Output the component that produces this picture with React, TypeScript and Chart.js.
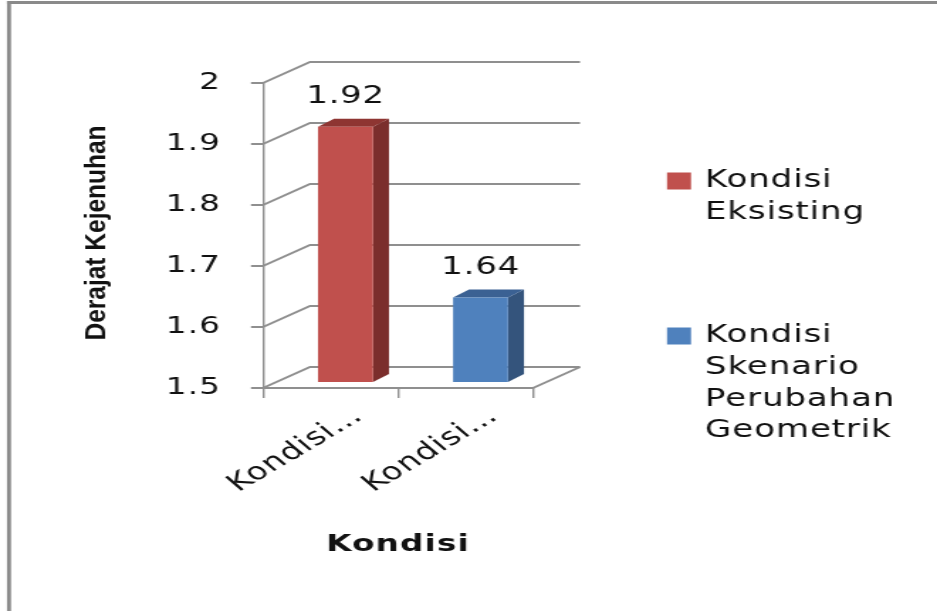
import React, { useEffect, useRef } from 'react';
import { Chart, registerables } from 'chart.js';

Chart.register(...registerables);

// ---- data ----
const categories = ['Kondisi Eksisting', 'Kondisi Skenario Perubahan Geometrik'];
const legendLines = [
  ['Kondisi', 'Eksisting'],
  ['Kondisi', 'Skenario', 'Perubahan', 'Geometrik'],
];
const values = [1.92, 1.64];
const yTicks = [1.5, 1.6, 1.7, 1.8, 1.9, 2];
const yTitle = 'Derajat Kejenuhan';
const xTitle = 'Kondisi';

// ---- layout / styles ----
// The reference is a horizontally stretched picture: the canvas is drawn
// narrower and stretched by CSS to the full width.
const PAGE_W = 937;
const PAGE_H = 611;
const CANVAS_W = 660;
const S = PAGE_W / CANVAS_W;
const px = (pageX: number) => pageX / S;

const frontColors = ['#C0504D', '#4F81BD'];
const sideColors = ['#7B2E2C', '#34547C'];
const topColors = ['#8E3532', '#3B6193'];
const lineColor = '#8f8f8f';
const FONT = '"DejaVu Sans", Verdana, sans-serif';
const WALL = { dx: px(47), dy: -21 };
const BAR_SHIFT = { x: px(15), y: -5 };
const BAR_DEPTH = { x: px(16), y: -8 };

const shortLabel = (s: string) => s.split(' ')[0] + '\u2026';

const framePlugin = {
  id: 'frame',
  beforeLayout(chart: any) {
    chart.ctx.letterSpacing = '0.8px';
  },
  beforeDraw(chart: any) {
    const ctx = chart.ctx;
    ctx.save();
    ctx.fillStyle = '#ffffff';
    ctx.fillRect(0, 0, chart.width, chart.height);
    ctx.fillStyle = '#8a8a8a';
    ctx.fillRect(px(7), 1, chart.width, 3);
    ctx.fillRect(px(7), 1, px(4), chart.height);
    ctx.restore();
    ctx.letterSpacing = '0.8px';
  },
};

const wallPlugin = {
  id: 'wall3d',
  beforeDatasetsDraw(chart: any) {
    const { ctx, chartArea, scales } = chart;
    const ys = scales.y;
    const { left, right, bottom } = chartArea;
    ctx.save();
    ctx.strokeStyle = lineColor;
    ctx.lineWidth = 2;
    yTicks.forEach((v) => {
      const y = ys.getPixelForValue(v);
      ctx.beginPath();
      ctx.moveTo(left, y);
      ctx.lineTo(left + WALL.dx, y + WALL.dy);
      ctx.lineTo(right + WALL.dx, y + WALL.dy);
      ctx.stroke();
    });
    ctx.beginPath();
    ctx.moveTo(right, bottom);
    ctx.lineTo(right + WALL.dx, bottom + WALL.dy);
    ctx.stroke();
    ctx.restore();
  },
  beforeDatasetDraw(chart: any, args: any) {
    const ctx = chart.ctx;
    ctx.save();
    ctx.translate(BAR_SHIFT.x, BAR_SHIFT.y);
    args.meta.data.forEach((el: any, i: number) => {
      const { x, y, base, width } = el.getProps(['x', 'y', 'base', 'width'], true);
      const l = x - width / 2;
      const r = x + width / 2;
      ctx.fillStyle = sideColors[i];
      ctx.beginPath();
      ctx.moveTo(r, y);
      ctx.lineTo(r + BAR_DEPTH.x, y + BAR_DEPTH.y);
      ctx.lineTo(r + BAR_DEPTH.x, base + BAR_DEPTH.y);
      ctx.lineTo(r, base);
      ctx.closePath();
      ctx.fill();
      ctx.fillStyle = topColors[i];
      ctx.beginPath();
      ctx.moveTo(l, y);
      ctx.lineTo(l + BAR_DEPTH.x, y + BAR_DEPTH.y);
      ctx.lineTo(r + BAR_DEPTH.x, y + BAR_DEPTH.y);
      ctx.lineTo(r, y);
      ctx.closePath();
      ctx.fill();
    });
  },
  afterDatasetDraw(chart: any) {
    chart.ctx.restore();
  },
  afterDraw(chart: any) {
    const ctx = chart.ctx;
    const meta = chart.getDatasetMeta(0);
    ctx.save();
    // data labels
    ctx.fillStyle = '#111';
    ctx.font = `24px ${FONT}`;
    ctx.letterSpacing = '0.5px';
    ctx.textAlign = 'center';
    ctx.textBaseline = 'middle';
    meta.data.forEach((el: any, i: number) => {
      const { x, y } = el.getProps(['x', 'y'], true);
      ctx.fillText(String(values[i]), x + BAR_SHIFT.x, y + BAR_SHIFT.y - 30);
    });
    // legend
    ctx.font = `24px ${FONT}`;
    ctx.letterSpacing = '0.6px';
    ctx.textAlign = 'left';
    const starts = [181, 336];
    legendLines.forEach((lines, i) => {
      ctx.fillStyle = frontColors[i];
      ctx.fillRect(px(667), starts[i] - 8.5, px(24), 17);
      ctx.fillStyle = '#111';
      lines.forEach((t, j) => ctx.fillText(t, px(705), starts[i] + j * 31.7));
    });
    // y title
    ctx.letterSpacing = '0px';
    ctx.font = `bold 24.5px "Liberation Sans", Arial, sans-serif`;
    ctx.translate(px(105), 233);
    ctx.scale(1.12 / S, 1);
    ctx.rotate(-Math.PI / 2);
    ctx.textAlign = 'center';
    ctx.textBaseline = 'alphabetic';
    ctx.fillText(yTitle, 0, 0);
    ctx.restore();
    ctx.letterSpacing = '0.8px';
  },
};

export default function App() {
  const ref = useRef<HTMLCanvasElement | null>(null);
  useEffect(() => {
    if (!ref.current) return;
    const chart = new Chart(ref.current, {
      type: 'bar',
      data: {
        labels: categories,
        datasets: [
          {
            data: values,
            base: yTicks[0],
            backgroundColor: frontColors,
            borderWidth: 0,
            categoryPercentage: 1,
            barPercentage: 0.407,
            clip: false as any,
          },
        ],
      },
      options: {
        animation: false,
        responsive: false,
        layout: { padding: { top: 83, right: CANVAS_W - px(533), left: 0, bottom: 0 } },
        plugins: { legend: { display: false }, tooltip: { enabled: false } },
        scales: {
          x: {
            afterFit: (s: any) => {
              s.height = PAGE_H - 388;
            },
            grid: {
              display: true,
              drawOnChartArea: false,
              drawTicks: true,
              tickLength: 10,
              color: lineColor,
              lineWidth: 1.4,
              offset: true,
            },
            border: { display: true, color: lineColor, width: 2 },
            ticks: {
              color: '#111',
              font: { family: FONT, size: 24 },
              minRotation: 40,
              maxRotation: 40,
              padding: 4,
              labelOffset: 20,
              autoSkip: false,
              callback: (_v: any, i: number) => shortLabel(categories[i]),
            },
            title: {
              display: true,
              text: xTitle,
              color: '#111',
              font: { family: FONT, size: 23, weight: 'bold' },
              padding: { top: 0, bottom: 52 },
            },
          },
          y: {
            min: yTicks[0],
            max: yTicks[yTicks.length - 1],
            afterFit: (s: any) => {
              s.width = px(263);
            },
            afterBuildTicks: (s: any) => {
              s.ticks = yTicks.map((v) => ({ value: v }));
            },
            grid: {
              display: true,
              drawOnChartArea: false,
              drawTicks: true,
              tickLength: px(12),
              color: lineColor,
              lineWidth: 2,
            },
            border: { display: true, color: lineColor, width: 1.4 },
            ticks: {
              color: '#111',
              font: { family: FONT, size: 23 },
              padding: 21,
              callback: (v: any) => String(Number(Number(v).toFixed(2))),
            },
          },
        },
      },
      plugins: [framePlugin, wallPlugin],
    });
    return () => chart.destroy();
  }, []);
  return (
    <div style={{ position: 'absolute', left: 0, top: 0, width: PAGE_W, height: PAGE_H }}>
      <canvas
        ref={ref}
        width={CANVAS_W}
        height={PAGE_H}
        style={{ display: 'block', width: PAGE_W, height: PAGE_H }}
      />
    </div>
  );
}
